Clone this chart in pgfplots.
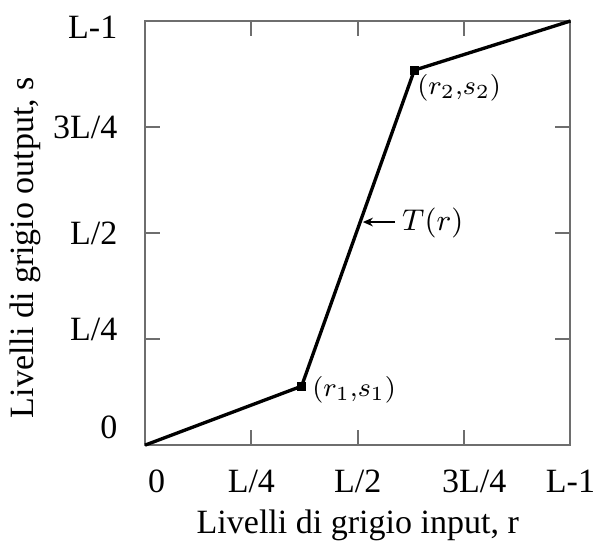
\documentclass[border=0pt]{standalone}
\usepackage{fontspec}
\setmainfont{Liberation Serif}
\usepackage{pgfplots}
\pgfplotsset{compat=1.18}
\usetikzlibrary{arrows.meta}
\definecolor{axisgray}{RGB}{110,110,110}

\begin{document}
\begin{tikzpicture}
\begin{axis}[
  scale only axis, width=127.6pt, height=127.2pt,
  xmin=0, xmax=1, ymin=0, ymax=1,
  xtick={0,0.25,0.5,0.75,1}, ytick={0,0.25,0.5,0.75,1},
  xticklabels={\hspace{7pt}0,L/4,L/2,\hspace{6pt}3L/4,L-1},
  yticklabels={\raisebox{5.4pt}{0},\raisebox{3pt}{L/4},L/2,3L/4,\raisebox{-1.8pt}{L-1}},
  axis line style={axisgray, line width=0.6pt},
  major tick style={axisgray, line width=0.6pt},
  major tick length=4.5pt,
  tick label style={font=\fontsize{10.2}{12}\selectfont},
  xticklabel style={anchor=base, yshift=-14.3pt},
  yticklabel style={anchor=base east, inner sep=0pt, xshift=-8.1pt, yshift=-3.4pt},
  clip=false,
  every axis x label/.style={at={(axis description cs:0.5,0)}, anchor=base,
    yshift=-26.4pt, font=\fontsize{10.2}{12}\selectfont},
  every axis y label/.style={at={(axis description cs:-0.282,0.466)}, anchor=center,
    rotate=90, font=\fontsize{10.2}{12}\selectfont},
  xlabel={Livelli di grigio input, r},
  ylabel={Livelli di grigio output, s},
]
\addplot[black, line width=1pt, mark=square*, mark size=0.9pt, mark indices={2,3}]
  coordinates {(0,0) (0.368,0.139) (0.633,0.884) (1,1)};

\node[anchor=west, inner sep=0pt, xshift=3pt, yshift=-1.2pt, font=\fontsize{8}{9.6}\selectfont]
  at (axis cs:0.368,0.139) {$(r_1{,}s_1)$};
\node[anchor=west, inner sep=0pt, xshift=0.7pt, yshift=-5.4pt, font=\fontsize{8}{9.6}\selectfont]
  at (axis cs:0.633,0.884) {$(r_2{,}s_2)$};
\draw[-{Stealth[length=3pt,width=2.6pt]}, line width=0.6pt]
  (axis cs:0.588,0.526) -- (axis cs:0.512,0.526);
\node[anchor=west, inner sep=0pt, font=\fontsize{9}{10.8}\selectfont]
  at (axis cs:0.603,0.524) {$T(r)$};

\coordinate (bbA) at (axis description cs:-0.3408,-0.2288);
\coordinate (bbB) at (axis description cs:1.0529,1.0495);
\end{axis}
\pgfresetboundingbox
\useasboundingbox (bbA) rectangle (bbB);
\end{tikzpicture}
\end{document}
